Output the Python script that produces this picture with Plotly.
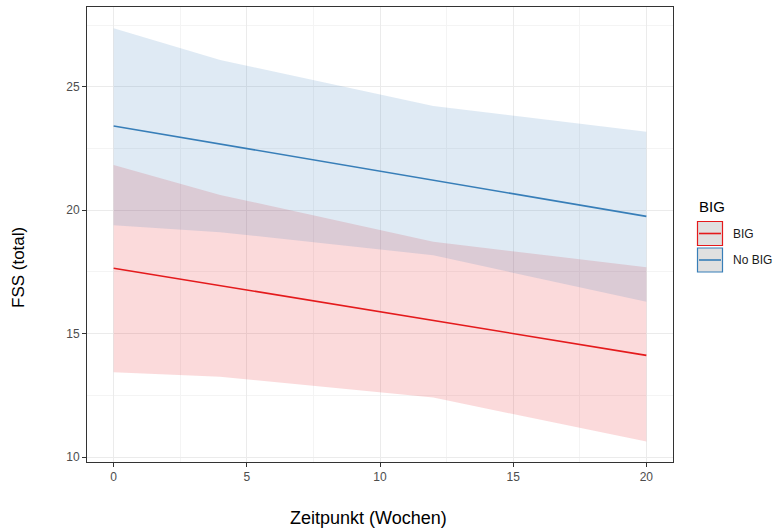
import plotly.graph_objects as go

# Time points (weeks) at which the confidence bands are evaluated
band_weeks = [0, 4, 12, 20]

# Group "BIG"
big_upper = [21.83, 20.62, 18.72, 17.69]
big_lower = [13.44, 13.25, 12.41, 10.63]
big_fit_weeks = [0, 20]
big_fit = [17.65, 14.12]

# Group "No BIG"
nobig_upper = [27.37, 26.08, 24.22, 23.18]
nobig_lower = [19.39, 19.11, 18.17, 16.29]
nobig_fit_weeks = [0, 20]
nobig_fit = [23.41, 19.75]

x_ticks = [0, 5, 10, 15, 20]
y_ticks = [10, 15, 20, 25]
legend_title = "BIG"
legend_labels = ["BIG", "No BIG"]

RED = "#E41A1C"
BLUE = "#377EB8"
RED_FILL = "rgba(228,26,28,0.16)"
BLUE_FILL = "rgba(55,126,184,0.16)"
FONT = "Liberation Sans, Arial, sans-serif"

fig = go.Figure()


def band(weeks, lo, hi, fill):
    return go.Scatter(
        x=list(weeks) + list(weeks)[::-1],
        y=list(hi) + list(lo)[::-1],
        fill="toself",
        fillcolor=fill,
        line=dict(width=0),
        mode="lines",
        hoverinfo="skip",
        showlegend=False,
    )


fig.add_trace(band(band_weeks, big_lower, big_upper, RED_FILL))
fig.add_trace(band(band_weeks, nobig_lower, nobig_upper, BLUE_FILL))
fig.add_trace(go.Scatter(x=big_fit_weeks, y=big_fit, mode="lines",
                         line=dict(color=RED, width=1.6), showlegend=False))
fig.add_trace(go.Scatter(x=nobig_fit_weeks, y=nobig_fit, mode="lines",
                         line=dict(color=BLUE, width=1.6), showlegend=False))

axis_common = dict(
    showline=True,
    linecolor="#333333",
    linewidth=1,
    mirror=True,
    ticks="outside",
    ticklen=4,
    tickwidth=1,
    tickcolor="#333333",
    tickfont=dict(family=FONT, size=12, color="#4d4d4d"),
    showgrid=True,
    gridcolor="#ebebeb",
    gridwidth=1.2,
    zeroline=False,
)

fig.update_xaxes(
    range=[-1, 21],
    tickvals=x_ticks,
    minor=dict(tick0=0, dtick=2.5, showgrid=True, gridcolor="#f4f4f4", gridwidth=0.8, ticks=""),
    **axis_common,
)
fig.update_yaxes(
    range=[9.8, 28.23],
    tickvals=y_ticks,
    minor=dict(tick0=0, dtick=2.5, showgrid=True, gridcolor="#f4f4f4", gridwidth=0.8, ticks=""),
    **axis_common,
)

# Legend drawn as keys in paper space (pixel offsets converted below)
W, H = 774, 529
ML, MR, MT, MB = 87, 101, 7, 67
pw, ph = W - ML - MR, H - MT - MB


def px_x(x):
    return (x - ML) / pw


def px_y(y):
    return 1 - (y - MT) / ph


shapes = []
annotations = []
key_rows = [(221.5, 245.5, RED), (248, 272, BLUE)]
for (y0, y1, col), label in zip(key_rows, legend_labels):
    shapes.append(dict(type="rect", xref="paper", yref="paper",
                       x0=px_x(697.5), x1=px_x(722.5), y0=px_y(y1), y1=px_y(y0),
                       fillcolor="#e0e0e0", line=dict(color=col, width=1.2)))
    ym = (y0 + y1) / 2
    shapes.append(dict(type="line", xref="paper", yref="paper",
                       x0=px_x(699), x1=px_x(721), y0=px_y(ym), y1=px_y(ym),
                       line=dict(color=col, width=1.6)))
    annotations.append(dict(text=label, xref="paper", yref="paper",
                            x=px_x(731), y=px_y(ym), xanchor="left", yanchor="middle",
                            showarrow=False, font=dict(family=FONT, size=12, color="#1a1a1a")))

annotations.append(dict(text=legend_title, xref="paper", yref="paper",
                        x=px_x(697), y=px_y(206), xanchor="left", yanchor="middle",
                        showarrow=False, font=dict(family=FONT, size=15, color="#000000")))

# Axis titles
annotations.append(dict(text="Zeitpunkt (Wochen)", xref="paper", yref="paper",
                        x=px_x(368), y=px_y(518), xanchor="center", yanchor="middle",
                        showarrow=False, font=dict(family=FONT, size=18, color="#000000")))
annotations.append(dict(text="FSS (total)", xref="paper", yref="paper",
                        x=px_x(18), y=px_y(268), xanchor="center", yanchor="middle",
                        textangle=-90,
                        showarrow=False, font=dict(family=FONT, size=17, color="#000000")))

fig.update_layout(
    width=W,
    height=H,
    margin=dict(l=ML, r=MR, t=MT, b=MB),
    plot_bgcolor="white",
    paper_bgcolor="white",
    showlegend=False,
    shapes=shapes,
    annotations=annotations,
    font=dict(family=FONT),
)

fig.write_html("out.html")
